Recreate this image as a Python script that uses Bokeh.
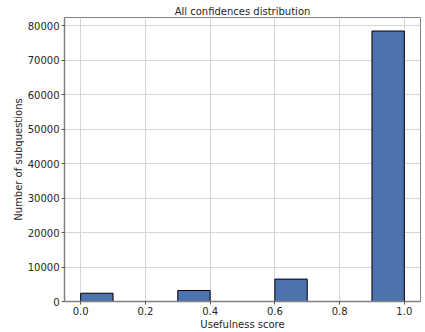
from bokeh.plotting import figure
from bokeh.models import Range1d, FixedTicker, NumeralTickFormatter
from bokeh.embed import file_html
from bokeh.resources import INLINE

bin_left = [0.0, 0.1, 0.2, 0.3, 0.4, 0.5, 0.6, 0.7, 0.8, 0.9]
bin_right = [0.1, 0.2, 0.3, 0.4, 0.5, 0.6, 0.7, 0.8, 0.9, 1.0]
counts = [2400, 0, 0, 3200, 0, 0, 6500, 0, 0, 78500]
x_ticks = [0.0, 0.2, 0.4, 0.6, 0.8, 1.0]
y_ticks = [0, 10000, 20000, 30000, 40000, 50000, 60000, 70000, 80000]

FONT = "DejaVu Sans"
TXT = "#262626"

p = figure(width=425, height=332, output_backend="svg", toolbar_location=None,
           x_range=Range1d(-0.05, 1.05), y_range=Range1d(0, max(counts) * 1.05),
           min_border_left=64, min_border_right=5, min_border_top=17, min_border_bottom=31,
           title="All confidences distribution")

p.quad(left=bin_left, right=bin_right, bottom=0, top=counts,
       fill_color="#4c72b0", line_color="black", line_width=1)

p.title.align = "center"
p.title.text_font = FONT
p.title.text_font_size = "10px"
p.title.text_font_style = "normal"
p.title.text_color = TXT
p.title.standoff = 1
p.title.offset = 0

p.xaxis.ticker = FixedTicker(ticks=x_ticks)
p.yaxis.ticker = FixedTicker(ticks=y_ticks)
p.xaxis.formatter = NumeralTickFormatter(format="0.0")
p.yaxis.formatter = NumeralTickFormatter(format="0")

p.xaxis.axis_label = "Usefulness score"
p.yaxis.axis_label = "Number of subquestions"

for ax in (p.xaxis, p.yaxis):
    ax.axis_label_text_font = FONT
    ax.axis_label_text_font_size = "10px"
    ax.axis_label_text_font_style = "normal"
    ax.axis_label_text_color = TXT
    ax.major_label_text_font = FONT
    ax.major_label_text_font_size = "10px"
    ax.major_label_text_color = TXT
    ax.axis_line_color = "#808080"
    ax.axis_line_width = 1.5
    ax.major_tick_line_color = "#555555"
    ax.major_tick_out = 3
    ax.major_tick_in = 0
    ax.minor_tick_line_color = None
    ax.major_label_standoff = 2
    ax.axis_label_standoff = 1

p.outline_line_color = "#808080"
p.outline_line_width = 1
p.grid.grid_line_color = "#d5d5d5"
p.grid.grid_line_width = 1
p.background_fill_color = "white"
p.border_fill_color = "white"

open("out.html", "w").write(file_html(p, INLINE))
